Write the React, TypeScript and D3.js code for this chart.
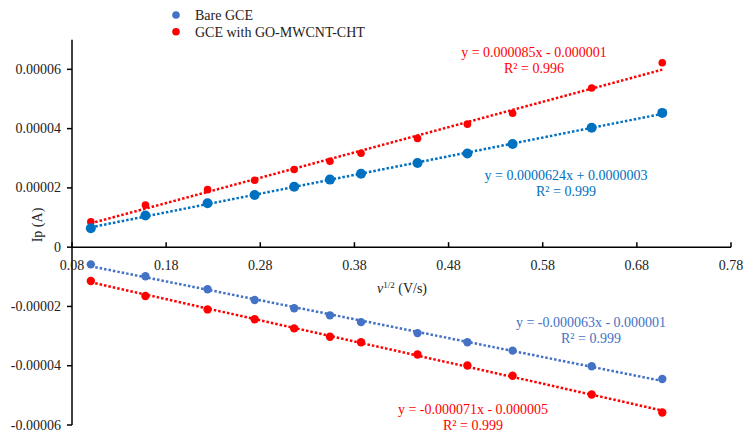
import React from 'react';
import * as d3 from 'd3';

// square root of scan rate, v^1/2
const rootScan = [0.1, 0.158, 0.224, 0.274, 0.316, 0.354, 0.387, 0.447, 0.5, 0.548, 0.632, 0.707];

// anodic peak currents (A)
const bareAnodic = [6.4e-6, 10.7e-6, 14.8e-6, 17.6e-6, 20.4e-6, 22.8e-6, 24.8e-6, 28.4e-6, 31.6e-6, 34.8e-6, 40.3e-6, 45.3e-6];
const modAnodic = [8.6e-6, 14.2e-6, 19.4e-6, 22.6e-6, 26.2e-6, 29.0e-6, 31.7e-6, 36.7e-6, 41.5e-6, 45.2e-6, 53.7e-6, 62.2e-6];

// cathodic peak currents (A)
const bareCathodic = [-5.8e-6, -9.8e-6, -14.2e-6, -17.8e-6, -20.6e-6, -23.0e-6, -25.3e-6, -29.0e-6, -32.1e-6, -34.9e-6, -40.2e-6, -44.5e-6];
const modCathodic = [-11.4e-6, -16.5e-6, -21.0e-6, -24.3e-6, -27.4e-6, -30.2e-6, -32.1e-6, -36.2e-6, -39.9e-6, -43.4e-6, -49.7e-6, -55.8e-6];

const xTicks = [0.08, 0.18, 0.28, 0.38, 0.48, 0.58, 0.68, 0.78];
const yTicks = [0.00006, 0.00004, 0.00002, 0, -0.00002, -0.00004, -0.00006];
const yTickLabels = ['0.00006', '0.00004', '0.00002', '0', '-0.00002', '-0.00004', '-0.00006'];

const legendLabels = ['Bare GCE', 'GCE with GO-MWCNT-CHT'];

const equations = [
  ['y = 0.000085x - 0.000001', 'R\u00B2 = 0.996'],
  ['y = 0.0000624x + 0.0000003', 'R\u00B2 = 0.999'],
  ['y = -0.000063x - 0.000001', 'R\u00B2 = 0.999'],
  ['y = -0.000071x - 0.000005', 'R\u00B2 = 0.999'],
];

const FONT = '"Liberation Serif", "Times New Roman", serif';

function fit(xs: number[], ys: number[]) {
  const mx = d3.mean(xs) ?? 0;
  const my = d3.mean(ys) ?? 0;
  let num = 0;
  let den = 0;
  xs.forEach((x, i) => {
    num += (x - mx) * (ys[i] - my);
    den += (x - mx) * (x - mx);
  });
  const slope = num / den;
  return { slope, intercept: my - slope * mx };
}

export default function App() {
  const width = 749;
  const height = 438;

  const xScale = d3.scaleLinear().domain([0.08, 0.78]).range([72, 731]);
  const yScale = d3.scaleLinear().domain([0.00007, -0.00006]).range([39.7, 425]);

  const series = [
    { ys: modAnodic, color: '#FF0000', r: 3.8, eq: equations[0], eqColor: '#FF0000', ex: 534, ey: 57 },
    { ys: bareAnodic, color: '#0070C0', r: 5, eq: equations[1], eqColor: '#0070C0', ex: 566, ey: 180 },
    { ys: bareCathodic, color: '#4472C4', r: 4.2, eq: equations[2], eqColor: '#4472C4', ex: 591, ey: 327 },
    { ys: modCathodic, color: '#FF0000', r: 4.2, eq: equations[3], eqColor: '#FF0000', ex: 473, ey: 414 },
  ];

  const xMin = d3.min(rootScan) ?? 0;
  const xMax = d3.max(rootScan) ?? 1;
  const y0 = yScale(0);

  return (
    <div style={{ position: 'absolute', left: 0, top: 0 }}>
      <svg width={width} height={height} style={{ display: 'block', fontFamily: FONT }}>
        <rect width={width} height={height} fill="#fff" />

        {/* axes */}
        <line x1={72} x2={72} y1={yScale(0.00007)} y2={yScale(-0.00006)} stroke="#000" strokeWidth={1.5} />
        <line x1={72} x2={731} y1={y0} y2={y0} stroke="#000" strokeWidth={1.5} />
        {yTicks.map((t, i) => (
          <g key={i}>
            <line x1={67} x2={72} y1={yScale(t)} y2={yScale(t)} stroke="#000" strokeWidth={1.5} />
            <text x={61} y={yScale(t) + 4.5} textAnchor="end" fontSize={14} fill="#222">
              {yTickLabels[i]}
            </text>
          </g>
        ))}
        {xTicks.map((t, i) => (
          <g key={i}>
            <line x1={xScale(t)} x2={xScale(t)} y1={y0} y2={y0 - 5} stroke="#000" strokeWidth={1.5} />
            <text x={xScale(t)} y={270} textAnchor="middle" fontSize={14} fill="#222">
              {d3.format('.2f')(t)}
            </text>
          </g>
        ))}

        <text transform="translate(42,225) rotate(-90)" textAnchor="middle" fontSize={14} fill="#222">
          Ip (A)
        </text>
        <text x={377} y={293} fontSize={14} fill="#222">
          <tspan fontStyle="italic">{'\u03BD'}</tspan>
          <tspan fontSize={9} dy={-5}>1/2</tspan>
          <tspan dy={5}> (V/s)</tspan>
        </text>

        {/* trendlines */}
        {series.map((s, i) => {
          const { slope, intercept } = fit(rootScan, s.ys);
          return (
            <line
              key={i}
              x1={xScale(xMin)}
              x2={xScale(xMax)}
              y1={yScale(slope * xMin + intercept)}
              y2={yScale(slope * xMax + intercept)}
              stroke={s.color}
              strokeWidth={2.5}
              strokeDasharray="2.5 2"
            />
          );
        })}

        {/* points */}
        {series.map((s, i) => (
          <g key={i}>
            {s.ys.map((v, j) => (
              <circle key={j} cx={xScale(rootScan[j])} cy={yScale(v)} r={s.r} fill={s.color} />
            ))}
          </g>
        ))}

        {/* equations */}
        {series.map((s, i) => (
          <text key={i} textAnchor="middle" fontSize={14} fill={s.eqColor}>
            <tspan x={s.ex} y={s.ey}>{s.eq[0]}</tspan>
            <tspan x={s.ex} y={s.ey + 16}>{s.eq[1]}</tspan>
          </text>
        ))}

        {/* legend */}
        {legendLabels.map((l, i) => (
          <g key={i}>
            <circle cx={176} cy={15 + i * 16.7} r={3.8} fill={i === 0 ? '#4472C4' : '#FF0000'} />
            <text x={195} y={20 + i * 16.7} fontSize={14} fill="#222">
              {l}
            </text>
          </g>
        ))}
      </svg>
    </div>
  );
}
